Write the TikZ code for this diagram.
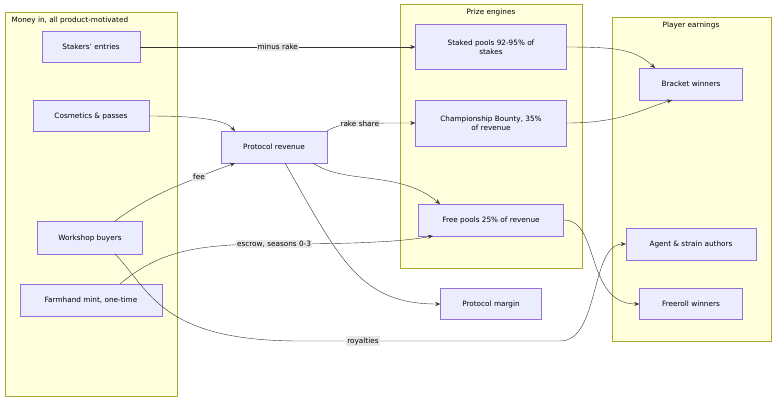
\documentclass[tikz,border=0pt]{standalone}
\usepackage{fontspec}
\setmainfont{DejaVu Sans}
\usetikzlibrary{arrows.meta,positioning}
\definecolor{boxfill}{HTML}{ECECFF}
\definecolor{boxline}{HTML}{9370DB}
\definecolor{grpfill}{HTML}{FFFFDE}
\definecolor{grpline}{HTML}{AAAA33}
\definecolor{lnk}{HTML}{333333}
\begin{document}
\begin{tikzpicture}[x=1pt,y=-1pt,font=\fontsize{7.3}{8.8}\selectfont,
  box/.style={draw=boxline,fill=boxfill,align=center,inner sep=0pt,minimum height=31pt},
  grp/.style={draw=grpline,fill=grpfill},
  link/.style={draw=lnk,-{Stealth[length=5pt,width=4pt]},thin},
  lbl/.style={fill=gray!18,inner sep=1pt}]
  \useasboundingbox (0,0) rectangle (784,405);
  % groups
  \draw[grp] (5,12) rectangle (177,396);
  \node[anchor=north west] at (8,13) {Money in, all product-motivated};
  \draw[grp] (400,4) rectangle (582,268);
  \node[anchor=north] at (491,5) {Prize engines};
  \draw[grp] (612,17) rectangle (771,341);
  \node[anchor=north] at (691,18) {Player earnings};

  % sources
  \node[box,minimum width=98pt] (stake) at (91,47) {Stakers' entries};
  \node[box,minimum width=116pt] (cosm) at (91,116) {Cosmetics \& passes};
  \node[box,minimum width=105pt,minimum height=33pt] (shop) at (90,238) {Workshop buyers};
  \node[box,minimum width=142pt,minimum height=32pt] (mint) at (91,300) {Farmhand mint, one-time};
  \node[box,minimum width=106pt,minimum height=32pt] (rev) at (274,147) {Protocol revenue};

  % prize engines
  \node[box,minimum width=151pt,minimum height=45pt] (spool) at (491,47) {Staked pools 92-95\% of\\stakes};
  \node[box,minimum width=151pt,minimum height=46pt] (bounty) at (491,123) {Championship Bounty, 35\%\\of revenue};
  \node[box,minimum width=145pt,minimum height=32pt] (fpool) at (491,220) {Free pools 25\% of revenue};
  \node[box,minimum width=101pt] (margin) at (491,304) {Protocol margin};

  % earnings
  \node[box,minimum width=103pt,minimum height=32pt] (bracket) at (691,84) {Bracket winners};
  \node[box,minimum width=130pt,minimum height=32pt] (authors) at (691,244) {Agent \& strain authors};
  \node[box,minimum width=103pt] (freeroll) at (691,304) {Freeroll winners};

  % links
  \draw[link] (stake.east) -- node[lbl] {minus rake} (spool.west);
  \draw[link] (cosm.east) .. controls (200,116) and (225,120) .. (235,131);
  \draw[link] (115,221) .. controls (150,195) and (180,185) .. (199,177)
    node[lbl] {fee} .. controls (215,170) and (225,167) .. (235,163);
  \draw[link] (327,131) .. controls (340,123) and (350,123) .. node[lbl,pos=0.6] {rake share} (bounty.west);
  \draw[link] (313,163) .. controls (345,185) and (400,170) .. (440,204);
  \draw[link] (285,163) .. controls (340,260) and (360,304) .. (margin.west);
  \draw[link] (120,284) .. controls (160,250) and (200,244) .. (274,244)
    node[lbl] {escrow, seasons 0-3}
    .. controls (380,244) and (410,240) .. (433,236);
  \draw[link] (115,254) .. controls (150,290) and (160,341) .. (300,341)
    -- (363,341) node[lbl] {royalties} -- (560,341) .. controls (600,341) and (590,244) .. (authors.west);
  \draw[link] (spool.east) .. controls (620,47) and (635,50) .. (655,68);
  \draw[link] (bounty.east) .. controls (620,123) and (640,110) .. (672,100);
  \draw[link] (564,220) .. controls (600,220) and (585,304) .. (freeroll.west);
\end{tikzpicture}
\end{document}
